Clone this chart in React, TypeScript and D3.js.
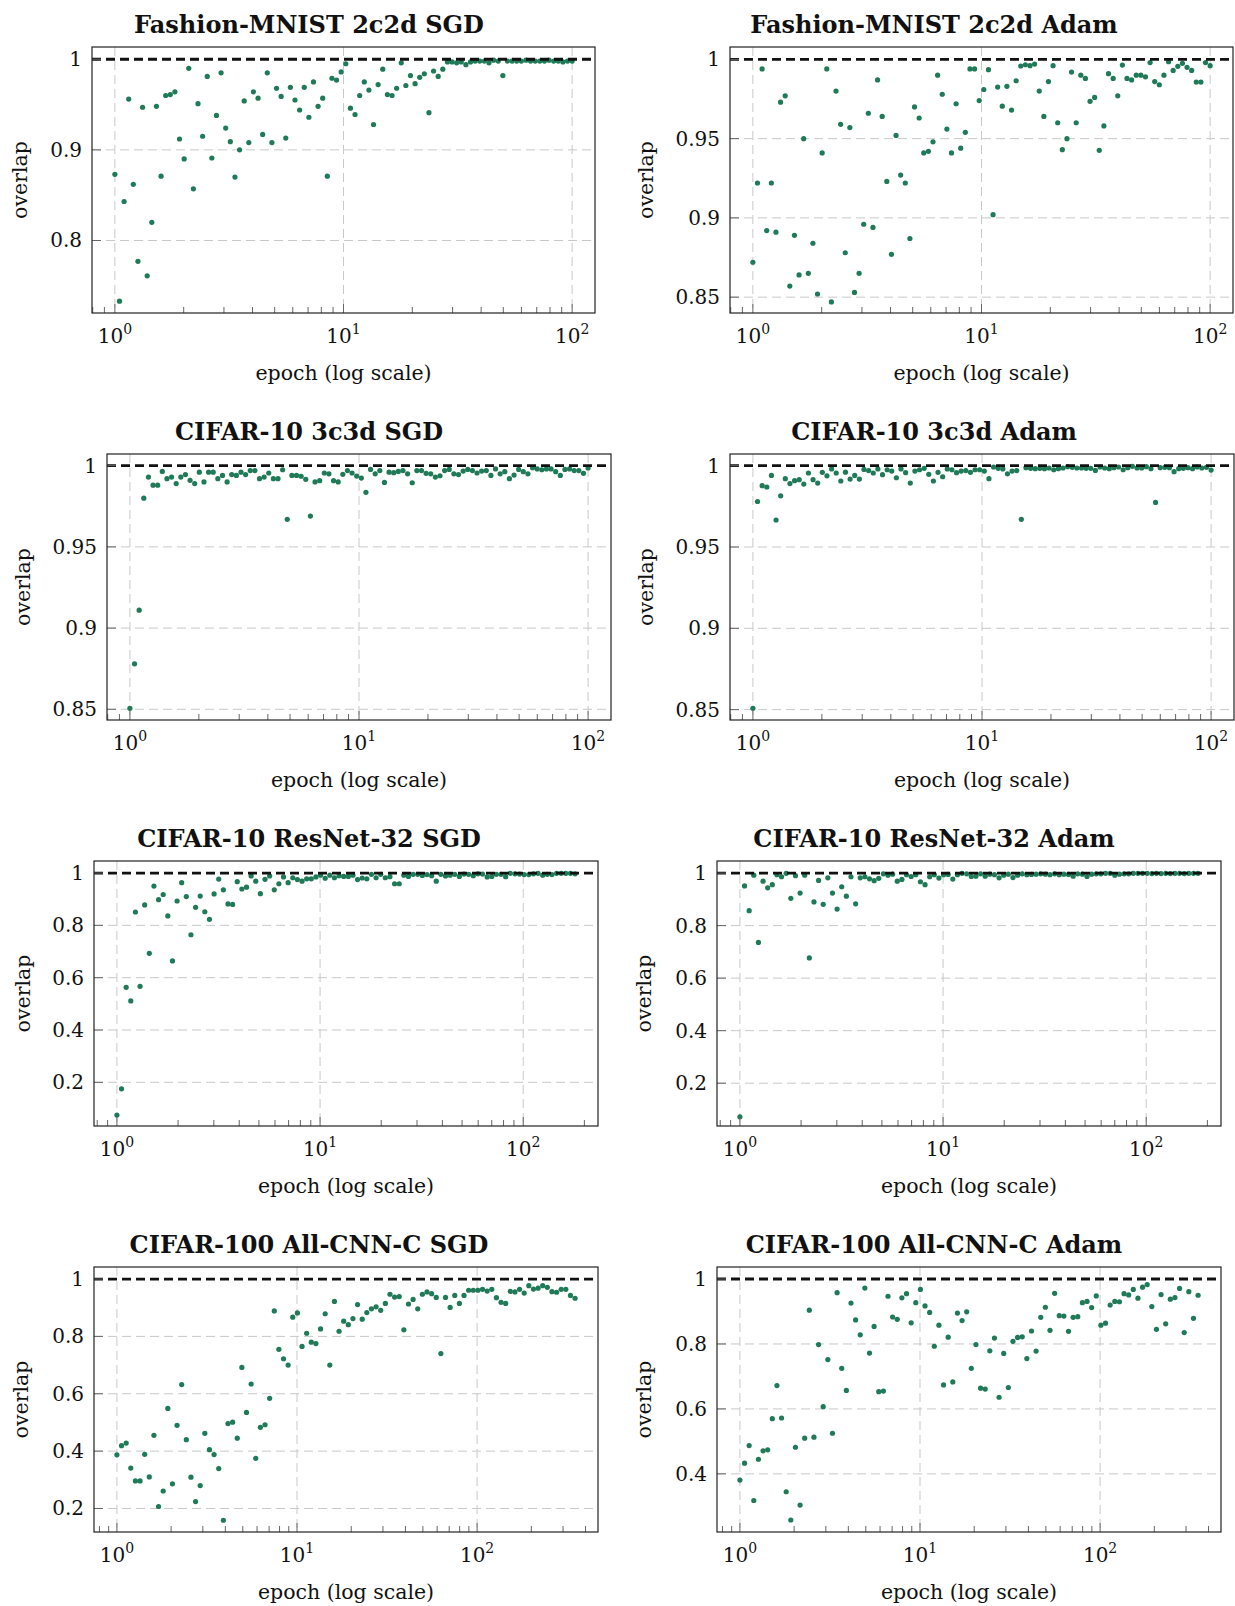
import React from "react";
import * as d3 from "d3";

const fmnistSgd = [
  0.873, 0.733, 0.843, 0.956, 0.862, 0.777, 0.947, 0.761, 0.820, 0.948,
  0.871, 0.960, 0.961, 0.964, 0.912, 0.890, 0.990, 0.857, 0.951, 0.915,
  0.981, 0.891, 0.938, 0.985, 0.924, 0.909, 0.870, 0.900, 0.954, 0.908,
  0.964, 0.957, 0.917, 0.985, 0.908, 0.968, 0.959, 0.913, 0.969, 0.955,
  0.944, 0.969, 0.936, 0.975, 0.948, 0.957, 0.871, 0.979, 0.977, 0.986,
  0.995, 0.946, 0.939, 0.960, 0.975, 0.966, 0.928, 0.972, 0.989, 0.961,
  0.960, 0.968, 0.996, 0.971, 0.982, 0.973, 0.980, 0.984, 0.941, 0.987,
  0.981, 0.989, 0.997, 0.997, 0.996, 0.997, 0.994, 0.997, 0.998, 0.998,
  0.998, 0.996, 0.999, 0.998, 0.982, 0.998, 0.998, 0.998, 0.998, 0.999,
  0.998, 0.998, 0.998, 0.998, 0.999, 0.998, 0.998, 0.997, 0.998, 0.998,
];
const fmnistAdam = [
  0.872, 0.922, 0.994, 0.892, 0.922, 0.891, 0.973, 0.977, 0.857, 0.889,
  0.864, 0.950, 0.865, 0.884, 0.852, 0.941, 0.994, 0.847, 0.980, 0.959,
  0.878, 0.957, 0.853, 0.865, 0.896, 0.966, 0.894, 0.987, 0.964, 0.923,
  0.877, 0.952, 0.927, 0.922, 0.887, 0.970, 0.963, 0.941, 0.942, 0.948,
  0.990, 0.978, 0.956, 0.941, 0.972, 0.944, 0.954, 0.994, 0.994, 0.974,
  0.981, 0.9935, 0.902, 0.9825, 0.9705, 0.983, 0.968, 0.9865, 0.9958, 0.9966,
  0.996, 0.997, 0.980, 0.964, 0.986, 0.996, 0.960, 0.943, 0.950, 0.992,
  0.960, 0.990, 0.988, 0.9735, 0.976, 0.9426, 0.958, 0.991, 0.988, 0.977,
  0.9964, 0.988, 0.987, 0.990, 0.990, 0.989, 0.998, 0.986, 0.984, 0.990,
  0.9985, 0.993, 0.9956, 0.9975, 0.995, 0.993, 0.9857, 0.9857, 0.998, 0.996,
];
const cifar10c3Sgd = [
  0.8506, 0.878, 0.911, 0.980, 0.993, 0.988, 0.988, 0.9965, 0.992, 0.993,
  0.989, 0.993, 0.9945, 0.991, 0.989, 0.996, 0.990, 0.996, 0.996, 0.992,
  0.994, 0.990, 0.9945, 0.994, 0.996, 0.9945, 0.997, 0.997, 0.992, 0.993,
  0.9955, 0.992, 0.992, 0.9975, 0.967, 0.994, 0.994, 0.9935, 0.9916, 0.969,
  0.990, 0.9908, 0.9955, 0.995, 0.9908, 0.990, 0.9947, 0.997, 0.9955, 0.9936,
  0.9924, 0.9836, 0.9977, 0.995, 0.997, 0.9897, 0.996, 0.9957, 0.9965, 0.997,
  0.995, 0.9895, 0.997, 0.997, 0.9953, 0.995, 0.993, 0.9938, 0.997, 0.9977,
  0.995, 0.9945, 0.9967, 0.9977, 0.997, 0.9955, 0.9967, 0.997, 0.994, 0.998,
  0.995, 0.9963, 0.992, 0.9942, 0.9977, 0.9963, 0.995, 0.9988, 0.998, 0.9975,
  0.998, 0.998, 0.9963, 0.994, 0.9977, 0.998, 0.997, 0.997, 0.9953, 0.9986,
];
const cifar10c3Adam = [
  0.8508, 0.978, 0.9877, 0.9869, 0.994, 0.9666, 0.9815, 0.992, 0.989, 0.9908,
  0.9914, 0.9887, 0.9955, 0.9914, 0.9893, 0.9959, 0.9938, 0.998, 0.9955, 0.9906,
  0.996, 0.9918, 0.994, 0.9918, 0.9977, 0.997, 0.9955, 0.998, 0.9945, 0.9975,
  0.9967, 0.9926, 0.998, 0.9957, 0.9893, 0.9967, 0.9975, 0.9984, 0.9947, 0.9906,
  0.9959, 0.9932, 0.998, 0.9975, 0.9957, 0.9967, 0.997, 0.9959, 0.9975, 0.9975,
  0.9967, 0.992, 0.9992, 0.9984, 0.998, 0.995, 0.9967, 0.997, 0.967, 0.9988,
  0.9984, 0.9982, 0.9984, 0.9982, 0.9986, 0.9975, 0.9982, 0.9986, 0.9994, 0.999,
  0.9986, 0.9986, 0.9984, 0.9984, 0.9971, 0.9992, 0.9986, 0.9982, 0.9988, 0.9992,
  0.9975, 0.9988, 0.9996, 0.9986, 0.9986, 0.9994, 0.9982, 0.9774, 0.9988, 0.999,
  0.9988, 0.9963, 0.9982, 0.9984, 0.9988, 0.9982, 0.9992, 0.9986, 0.999, 0.9973,
];
const resnetSgd = [
  0.075, 0.175, 0.563, 0.511, 0.851, 0.567, 0.878, 0.693, 0.950, 0.898,
  0.918, 0.836, 0.664, 0.893, 0.963, 0.910, 0.764, 0.869, 0.912, 0.852,
  0.823, 0.920, 0.977, 0.936, 0.882, 0.880, 0.967, 0.939, 0.946, 0.989,
  0.969, 0.921, 0.976, 0.989, 0.936, 0.959, 0.985, 0.963, 0.982, 0.975,
  0.969, 0.978, 0.978, 0.985, 0.992, 0.980, 0.992, 0.982, 0.990, 0.987,
  0.987, 0.992, 0.975, 0.981, 0.978, 0.995, 0.982, 0.995, 0.982, 0.986,
  0.959, 0.959, 0.992, 0.987, 0.995, 0.995, 0.991, 0.994, 0.990, 0.969,
  0.995, 0.989, 0.992, 0.995, 0.987, 0.996, 0.995, 0.990, 0.997, 0.996,
  0.985, 0.987, 0.995, 0.995, 0.986, 0.999, 0.997, 0.996, 0.994, 0.994,
  0.997, 0.999, 0.992, 0.995, 0.994, 0.999, 0.999, 0.999, 0.999, 0.997,
];
const resnetAdam = [
  0.072, 0.951, 0.857, 0.992, 0.736, 0.969, 0.944, 0.956, 0.994, 0.986,
  0.999, 0.904, 0.990, 0.924, 0.992, 0.677, 0.890, 0.972, 0.881, 0.982,
  0.924, 0.863, 0.948, 0.912, 0.986, 0.883, 0.982, 0.986, 0.978, 0.971,
  0.980, 0.997, 0.992, 0.996, 0.969, 0.976, 0.994, 0.987, 0.994, 0.967,
  0.956, 0.986, 0.994, 0.981, 0.994, 0.995, 0.977, 0.994, 0.999, 0.997,
  0.987, 0.988, 0.997, 0.988, 0.996, 0.994, 0.982, 0.992, 0.996, 0.983,
  0.992, 0.997, 0.994, 0.995, 0.996, 0.997, 0.996, 0.994, 0.997, 0.994,
  0.996, 0.995, 0.988, 0.997, 0.996, 0.987, 0.996, 0.997, 0.997, 0.999,
  0.999, 0.992, 0.996, 0.997, 0.997, 0.999, 0.999, 0.999, 0.999, 0.998,
  0.999, 0.998, 0.999, 0.998, 0.999, 0.999, 0.998, 0.999, 0.999, 0.999,
];
const allcnnSgd = [
  0.387, 0.419, 0.428, 0.341, 0.296, 0.296, 0.389, 0.310, 0.455, 0.207,
  0.261, 0.549, 0.286, 0.490, 0.632, 0.440, 0.309, 0.224, 0.280, 0.462,
  0.405, 0.388, 0.339, 0.159, 0.496, 0.501, 0.445, 0.692, 0.535, 0.634,
  0.375, 0.483, 0.492, 0.584, 0.889, 0.755, 0.722, 0.700, 0.867, 0.882,
  0.765, 0.811, 0.780, 0.775, 0.826, 0.879, 0.700, 0.922, 0.818, 0.853,
  0.841, 0.862, 0.911, 0.860, 0.883, 0.896, 0.903, 0.891, 0.915, 0.947,
  0.937, 0.939, 0.823, 0.913, 0.929, 0.896, 0.947, 0.955, 0.949, 0.936,
  0.740, 0.936, 0.901, 0.943, 0.915, 0.943, 0.961, 0.961, 0.961, 0.964,
  0.958, 0.964, 0.935, 0.919, 0.915, 0.957, 0.955, 0.964, 0.951, 0.977,
  0.965, 0.968, 0.977, 0.971, 0.956, 0.954, 0.964, 0.964, 0.943, 0.933,
];
const allcnnAdam = [
  0.381, 0.433, 0.487, 0.318, 0.445, 0.471, 0.474, 0.570, 0.672, 0.572,
  0.345, 0.258, 0.482, 0.304, 0.510, 0.904, 0.513, 0.798, 0.607, 0.752,
  0.525, 0.958, 0.725, 0.657, 0.926, 0.874, 0.828, 0.972, 0.772, 0.854,
  0.653, 0.655, 0.947, 0.883, 0.876, 0.942, 0.955, 0.865, 0.927, 0.968,
  0.917, 0.897, 0.793, 0.858, 0.674, 0.821, 0.683, 0.895, 0.872, 0.899,
  0.725, 0.798, 0.664, 0.661, 0.779, 0.818, 0.636, 0.771, 0.666, 0.808,
  0.820, 0.822, 0.755, 0.840, 0.778, 0.882, 0.913, 0.842, 0.956, 0.887,
  0.886, 0.839, 0.882, 0.884, 0.927, 0.931, 0.912, 0.948, 0.858, 0.864,
  0.920, 0.931, 0.930, 0.955, 0.951, 0.968, 0.941, 0.975, 0.983, 0.915,
  0.845, 0.952, 0.862, 0.938, 0.943, 0.971, 0.835, 0.961, 0.879, 0.950,
];

const titles = [
  "Fashion-MNIST 2c2d SGD",
  "Fashion-MNIST 2c2d Adam",
  "CIFAR-10 3c3d SGD",
  "CIFAR-10 3c3d Adam",
  "CIFAR-10 ResNet-32 SGD",
  "CIFAR-10 ResNet-32 Adam",
  "CIFAR-100 All-CNN-C SGD",
  "CIFAR-100 All-CNN-C Adam",
];
const seriesList = [
  fmnistSgd, fmnistAdam, cifar10c3Sgd, cifar10c3Adam,
  resnetSgd, resnetAdam, allcnnSgd, allcnnAdam,
];
// last logged epoch of each run (points are logged evenly on the log axis)
const maxEpochs = [100, 100, 100, 100, 180, 180, 350, 350];
const yTickLists = [
  [0.8, 0.9, 1],
  [0.85, 0.9, 0.95, 1],
  [0.85, 0.9, 0.95, 1],
  [0.85, 0.9, 0.95, 1],
  [0.2, 0.4, 0.6, 0.8, 1],
  [0.2, 0.4, 0.6, 0.8, 1],
  [0.2, 0.4, 0.6, 0.8, 1],
  [0.4, 0.6, 0.8, 1],
];
const yDomains: [number, number][] = [
  [0.72, 1.0135],
  [0.84, 1.0078],
  [0.8434, 1.0072],
  [0.8436, 1.0072],
  [0.033, 1.046],
  [0.037, 1.046],
  [0.118, 1.042],
  [0.221, 1.037],
];
const xTickExponents = [0, 1, 2];
const xLabel = "epoch (log scale)";
const yLabel = "overlap";

// ---- layout ----
const W = 1235;
const H = 1606;
const layout = [
  { left: 92, top: 47, width: 503, height: 266, ylabOff: 70, titleX: 309 },
  { left: 730, top: 47, width: 503, height: 266, ylabOff: 82, titleX: 934 },
  { left: 107, top: 454, width: 504, height: 266, ylabOff: 82, titleX: 309 },
  { left: 730, top: 454, width: 504, height: 266, ylabOff: 82, titleX: 934 },
  { left: 94, top: 861, width: 504, height: 265, ylabOff: 69, titleX: 309 },
  { left: 717, top: 861, width: 504, height: 265, ylabOff: 71, titleX: 934 },
  { left: 94, top: 1267, width: 504, height: 265, ylabOff: 71, titleX: 309 },
  { left: 717, top: 1267, width: 504, height: 265, ylabOff: 71, titleX: 934 },
];

const FONT = "'DejaVu Serif', serif";
const DOT = "#1e7a57";
const GRID = "#c9c9c9";
const TICK = "#666666";

function Panel({ idx }: { idx: number }) {
  const L = layout[idx];
  const values = seriesList[idx];
  const maxE = maxEpochs[idx];
  const lg = Math.log10(maxE);
  const x = d3
    .scaleLog()
    .domain([Math.pow(10, -0.05 * lg), Math.pow(10, 1.05 * lg)])
    .range([L.left, L.left + L.width]);
  const y = d3
    .scaleLinear()
    .domain(yDomains[idx])
    .range([L.top + L.height, L.top]);
  const n = values.length;
  const epochs = d3.range(n).map((i) => Math.pow(maxE, i / (n - 1)));
  const [xd0, xd1] = x.domain();
  const bottom = L.top + L.height;
  const right = L.left + L.width;

  const minors: number[] = [];
  for (let k = -1; k <= 3; k++) {
    for (let m = 2; m <= 9; m++) {
      const v = m * Math.pow(10, k);
      if (v > xd0 && v < xd1) minors.push(v);
    }
  }
  const majors = xTickExponents.map((e) => Math.pow(10, e));
  const yTicks = yTickLists[idx];
  const cy = L.top + L.height / 2;
  const cx = L.left + L.width / 2;
  const ylabX = L.left - L.ylabOff + 5;

  return (
    <g>
      {/* grid */}
      {majors.map((v) => (
        <line key={"gx" + v} x1={x(v)} x2={x(v)} y1={L.top} y2={bottom}
          stroke={GRID} strokeWidth={1} strokeDasharray="9,5" />
      ))}
      {yTicks.filter((t) => t !== 1).map((t) => (
        <line key={"gy" + t} x1={L.left} x2={right} y1={y(t)} y2={y(t)}
          stroke={GRID} strokeWidth={1} strokeDasharray="9,5" />
      ))}
      {/* points */}
      {values.map((v, i) => (
        <circle key={"p" + i} cx={x(epochs[i])} cy={y(v)} r={2.6} fill={DOT} />
      ))}
      {/* reference line at overlap = 1 */}
      <line x1={L.left} x2={right} y1={y(1)} y2={y(1)} stroke="#111"
        strokeWidth={2.8} strokeDasharray="9,5" />
      {/* ticks */}
      {minors.map((v) => (
        <line key={"mx" + v} x1={x(v)} x2={x(v)} y1={bottom} y2={bottom - 6}
          stroke={TICK} strokeWidth={1} />
      ))}
      {majors.map((v) => (
        <line key={"Mx" + v} x1={x(v)} x2={x(v)} y1={bottom} y2={bottom - 9}
          stroke={TICK} strokeWidth={1} />
      ))}
      {yTicks.map((t) => (
        <line key={"My" + t} x1={L.left} x2={L.left + 9} y1={y(t)} y2={y(t)}
          stroke={TICK} strokeWidth={1} />
      ))}
      {/* frame */}
      <rect x={L.left} y={L.top} width={L.width} height={L.height} fill="none"
        stroke="#222" strokeWidth={1.2} />
      {/* tick labels */}
      {xTickExponents.map((e) => (
        <text key={"lx" + e} x={x(Math.pow(10, e))} y={bottom + 30}
          textAnchor="middle" fontFamily={FONT} fontSize={20} fill="#111">
          10<tspan dy={-9} fontSize={14}>{e}</tspan>
        </text>
      ))}
      {yTicks.map((t) => (
        <text key={"ly" + t} x={L.left - 10} y={y(t) + 7} textAnchor="end"
          fontFamily={FONT} fontSize={20} fill="#111">
          {String(t)}
        </text>
      ))}
      {/* axis labels */}
      <text x={cx} y={bottom + 67} textAnchor="middle" fontFamily={FONT}
        fontSize={20.5} fill="#111">{xLabel}</text>
      <text transform={`translate(${ylabX},${cy}) rotate(-90)`} textAnchor="middle"
        fontFamily={FONT} fontSize={20.5} fill="#111">{yLabel}</text>
      {/* title */}
      <text x={L.titleX} y={L.top - 14} textAnchor="middle" fontFamily={FONT}
        fontWeight="bold" fontSize={24} fill="#111">{titles[idx]}</text>
    </g>
  );
}

export default function App() {
  return (
    <div style={{ position: "absolute", left: 0, top: 0, width: W, height: H, background: "#fff" }}>
      <svg width={W} height={H} viewBox={`0 0 ${W} ${H}`} style={{ display: "block" }}>
        <rect x={0} y={0} width={W} height={H} fill="#fff" />
        {titles.map((_, i) => (
          <Panel key={i} idx={i} />
        ))}
      </svg>
    </div>
  );
}
